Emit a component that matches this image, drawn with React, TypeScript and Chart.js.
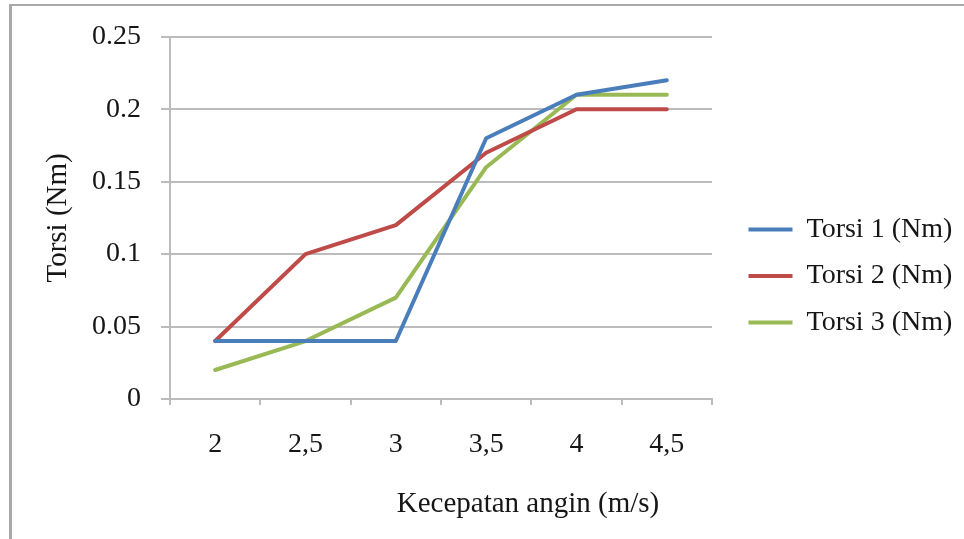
import { useEffect, useRef } from 'react';
import { Chart, registerables } from 'chart.js';

Chart.register(...registerables);

const categories = ['2', '2,5', '3', '3,5', '4', '4,5'];
const torsi1 = [0.04, 0.04, 0.04, 0.18, 0.21, 0.22];
const torsi2 = [0.04, 0.1, 0.12, 0.17, 0.2, 0.2];
const torsi3 = [0.02, 0.04, 0.07, 0.16, 0.21, 0.21];
const seriesNames = ['Torsi 1 (Nm)', 'Torsi 2 (Nm)', 'Torsi 3 (Nm)'];
const seriesColors = ['#4a7ebb', '#be4b48', '#98b954'];
const yMin = 0;
const yMax = 0.25;
const yStep = 0.05;
const xTitle = 'Kecepatan angin (m/s)';
const yTitle = 'Torsi (Nm)';

const FONT = "'Liberation Serif', 'Times New Roman', serif";
const TEXT = '#161616';
const GRID = '#bcbcbc';

const PLOT_RIGHT = 712;
const LEGEND_GAP = 18;
const X_TITLE_SHIFT = 87;

const legendPlacer = {
  id: 'legendPlacer',
  afterLayout(chart: any) {
    const l = chart.legend;
    if (!l) return;
    l.left = chart.chartArea.right + LEGEND_GAP;
    l.right = chart.width;
    l.width = l.right - l.left;
  },
};

export default function App() {
  const ref = useRef<HTMLCanvasElement | null>(null);

  useEffect(() => {
    if (!ref.current) return;
    const values = [torsi1, torsi2, torsi3];
    const chart = new Chart(ref.current, {
      type: 'line',
      data: {
        labels: categories,
        datasets: values.map((v, i) => ({
          label: seriesNames[i],
          data: v,
          borderColor: seriesColors[i],
          backgroundColor: seriesColors[i],
          borderWidth: 4,
          pointRadius: 0,
          pointHoverRadius: 0,
          tension: 0,
          fill: false,
          borderJoinStyle: 'round' as const,
          borderCapStyle: 'round' as const,
          xAxisID: 'x',
          yAxisID: 'y',
        })),
      },
      plugins: [legendPlacer],
      options: {
        animation: false,
        responsive: false,
        maintainAspectRatio: false,
        layout: { padding: { top: 13, left: 0, right: 0, bottom: 0 } },
        plugins: {
          tooltip: { enabled: false },
          legend: {
            position: 'right',
            align: 'center',
            labels: {
              usePointStyle: true,
              pointStyle: 'line',
              pointStyleWidth: 44,
              padding: 18.5,
              color: TEXT,
              font: { family: FONT, size: 28 },
            },
          },
        },
        scales: {
          x: {
            type: 'category',
            position: 'bottom',
            offset: true,
            grid: {
              display: true,
              offset: true,
              drawOnChartArea: false,
              drawTicks: true,
              tickLength: 6,
              color: GRID,
              lineWidth: 2,
            },
            border: { display: true, color: GRID, width: 2 },
            ticks: {
              color: TEXT,
              font: { family: FONT, size: 28 },
              padding: 23,
              maxRotation: 0,
              autoSkip: false,
            },
            title: {
              display: true,
              text: xTitle,
              color: TEXT,
              font: { family: FONT, size: 29 },
              padding: { top: 0, bottom: 17 },
            },
            afterFit: (s: any) => {
              s.height = 140;
              if (!s.__shifted) {
                const orig = s.drawTitle.bind(s);
                s.drawTitle = () => {
                  s.ctx.save();
                  s.ctx.translate(X_TITLE_SHIFT, 0);
                  orig();
                  s.ctx.restore();
                };
                s.__shifted = true;
              }
            },
          },
          xTop: {
            type: 'linear',
            axis: 'x',
            position: 'top',
            display: true,
            grid: { display: false },
            border: { display: false },
            ticks: { display: false },
            title: { display: false },
            afterFit: (s: any) => {
              s.height = 22;
            },
          },
          y: {
            type: 'linear',
            position: 'left',
            min: yMin,
            max: yMax,
            ticks: {
              stepSize: yStep,
              color: TEXT,
              font: { family: FONT, size: 28 },
              padding: 20,
              callback: (v: any) => String(Number(Number(v).toFixed(2))),
            },
            grid: {
              display: true,
              drawOnChartArea: true,
              drawTicks: true,
              tickLength: 9,
              color: GRID,
              lineWidth: 2,
            },
            border: { display: true, color: GRID, width: 2 },
            title: {
              display: true,
              text: yTitle,
              color: TEXT,
              font: { family: FONT, size: 29 },
              padding: { top: 41, bottom: 0 },
            },
            afterFit: (s: any) => {
              s.width = 170;
            },
          },
          yRight: {
            type: 'linear',
            axis: 'y',
            position: 'right',
            display: true,
            grid: { display: false },
            border: { display: false },
            ticks: { display: false },
            title: { display: false },
            afterFit: (s: any) => {
              const lw = s.chart.legend ? s.chart.legend.width : 0;
              s.width = Math.max(0, s.chart.width - lw - PLOT_RIGHT);
            },
          },
        },
      },
    } as any);
    return () => chart.destroy();
  }, []);

  return (
    <div
      style={{
        position: 'fixed',
        left: 0,
        top: 0,
        width: 964,
        height: 539,
        background: '#ffffff',
        overflow: 'hidden',
      }}
    >
      <div
        style={{
          position: 'absolute',
          left: 9,
          top: 4,
          right: -10,
          bottom: -10,
          borderTop: '2px solid #a9a9a9',
          borderLeft: '3px solid #a9a9a9',
        }}
      />
      <canvas
        ref={ref}
        width={964}
        height={539}
        style={{ position: 'absolute', left: 0, top: 0, width: 964, height: 539 }}
      />
    </div>
  );
}
